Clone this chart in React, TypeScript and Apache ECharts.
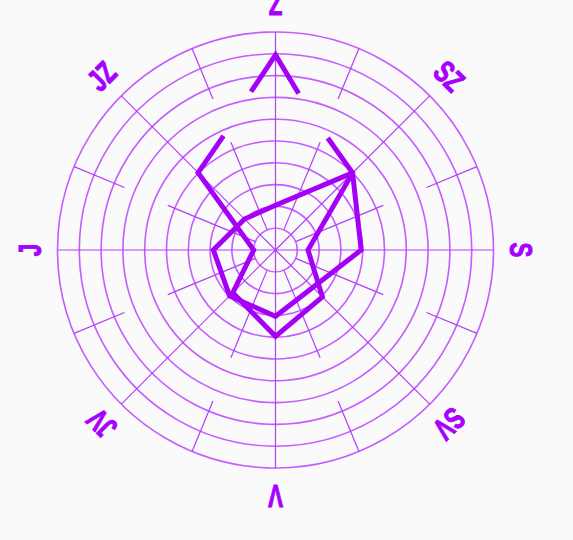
import React, { useEffect, useRef } from "react";
import * as echarts from "echarts";

// Compass labels (Czech), placed clockwise starting at the top of the chart
const directionLabels = ["Z", "SZ", "S", "SV", "V", "JV", "J", "JZ"];
const directionAngles = [0, 45, 90, 135, 180, 225, 270, 315];
const minorAngles = [22.5, 67.5, 112.5, 157.5, 202.5, 247.5, 292.5, 337.5];

// Series A (outer shape) – radius values and their angles
const seriesARadius = [5.75, 5.02, 1.0, 2.77, 3.96, 3.04, 1.49, 5.0, 5.67];
const seriesAAngle = [335.5, 315, 270, 225, 180, 135, 90, 45, 25];
// Series A – top peak piece
const seriesAPeakRadius = [7.35, 8.95, 7.26];
const seriesAPeakAngle = [351.2, 0, 8.4];
// Series B (inner closed shape)
const seriesBRadius = [5.0, 3.93, 3.04, 2.98, 2.85, 2.01, 2.05, 5.0];
const seriesBAngle = [45, 90, 180, 225, 270, 315, 0, 45];

// radial axis rings
const ringMax = 10;
const ringStep = 1;
const labelRadius = 11.25;

const DATA_COLOR = "#a400f5";
const GRID_COLOR = "#c45cff";
const RADIAL_COLOR = "#b23ff8";
const LABEL_COLOR = "#a600ff";

export default function App() {
  const ref = useRef<HTMLDivElement>(null);

  useEffect(() => {
    if (!ref.current) return;
    const chart = echarts.init(ref.current, undefined, { renderer: "svg" });

    const zip = (r: number[], a: number[]) => r.map((v, i) => [v, a[i]]);

    const radialSeries: any[] = [];
    const seg = (a: number, r0: number, r1: number) => ({
      type: "line",
      coordinateSystem: "polar",
      silent: true,
      symbol: "none",
      clip: false,
      z: 1,
      lineStyle: { color: RADIAL_COLOR, width: 1.2 },
      data: [
        [r0, a],
        [r1, a],
      ],
    });
    directionAngles.forEach((a) => radialSeries.push(seg(a, 0, 10.13)));
    minorAngles.forEach((a) => {
      radialSeries.push(seg(a, 1, 5.35));
      radialSeries.push(seg(a, 7.5, 10.15));
    });

    const dataLine = (name: string, data: number[][]) => ({
      name,
      type: "line",
      coordinateSystem: "polar",
      symbol: "none",
      clip: false,
      z: 5,
      lineStyle: { color: DATA_COLOR, width: 5, join: "miter", cap: "butt" },
      data,
    });

    const center = [275.5, 250];
    const radius = 218;

    chart.setOption({
      animation: false,
      backgroundColor: "#fafafa",
      polar: { center, radius },
      angleAxis: {
        type: "value",
        min: 0,
        max: 360,
        interval: 45,
        startAngle: 90,
        clockwise: true,
        axisLine: { show: false },
        axisTick: { show: false },
        axisLabel: { show: false },
        splitLine: { show: false },
      },
      radiusAxis: {
        type: "value",
        min: 0,
        max: ringMax,
        interval: ringStep,
        axisLine: { show: false },
        axisTick: { show: false },
        axisLabel: { show: false },
        splitLine: { show: true, lineStyle: { color: GRID_COLOR, width: 1.6 } },
      },
      series: [
        ...radialSeries,
        dataLine("A", zip(seriesARadius, seriesAAngle)),
        dataLine("A-peak", zip(seriesAPeakRadius, seriesAPeakAngle)),
        dataLine("B", zip(seriesBRadius, seriesBAngle)),
      ],
    });

    // Direction labels: positioned through the polar coordinate system
    const labels = directionLabels.map((name, i) => {
      const ang = directionAngles[i];
      let p: any = null;
      try {
        p = chart.convertToPixel({ polarIndex: 0 } as any, [labelRadius, ang]);
      } catch (e) {
        p = null;
      }
      if (!p || isNaN(p[0])) {
        const rr = (labelRadius / ringMax) * radius;
        const t = (ang * Math.PI) / 180;
        p = [center[0] + rr * Math.sin(t), center[1] - rr * Math.cos(t)];
      }
      return {
        type: "text",
        x: p[0],
        y: p[1],
        rotation: (-ang * Math.PI) / 180,
        scaleX: 0.72,
        silent: true,
        z: 10,
        style: {
          text: name,
          fill: LABEL_COLOR,
          stroke: LABEL_COLOR,
          lineWidth: 1,
          font: 'bold 31px "Liberation Sans", Arial, sans-serif',
          align: "center",
          verticalAlign: "middle",
          textAlign: "center",
          textVerticalAlign: "middle",
        },
      };
    });
    chart.setOption({ graphic: { elements: labels } });

    return () => chart.dispose();
  }, []);

  return (
    <div
      ref={ref}
      style={{ position: "absolute", left: 0, top: 0, width: 573, height: 540 }}
    />
  );
}
